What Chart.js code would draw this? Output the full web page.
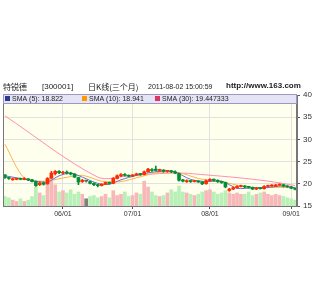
<!DOCTYPE html>
<html>
<head>
<meta charset="utf-8">
<script src="https://cdn.jsdelivr.net/npm/chart.js@4.4.1/dist/chart.umd.min.js"></script>
<style>
  html, body { margin: 0; padding: 0; background: #fff; }
</style>
</head>
<body>
<canvas id="kChart" width="320" height="300"></canvas>
<script>
// daily candles, oldest first
const openPrices  = [22.0,21.3,20.9,21.0,21.2,21.0,21.1,20.9,20.5,19.8,20.2,20.0,21.3,22.3,22.8,22.4,22.6,22.4,22.2,21.4,
                     20.5,20.6,20.5,20.1,19.8,19.6,19.9,20.3,20.1,21.2,21.8,22.1,21.9,21.7,22.0,22.2,22.1,22.7,23.2,23.3,
                     23.0,23.1,22.8,22.9,22.7,22.3,20.9,20.5,20.7,20.5,20.6,20.4,20.0,20.7,21.0,20.8,20.5,20.3,18.5,18.8,
                     19.1,19.4,19.5,19.3,19.2,18.8,19.0,18.9,19.4,19.5,19.5,19.7,19.8,19.5,19.3,19.0];
const closePrices = [21.4,21.2,21.1,21.2,21.0,21.2,20.9,20.5,19.6,20.2,19.9,21.2,22.4,22.8,22.5,22.6,22.4,22.2,21.5,20.4,
                     20.8,20.6,20.1,19.8,19.6,19.9,20.3,20.1,21.2,21.8,22.1,21.9,21.7,22.0,22.2,22.1,22.7,23.3,23.0,23.0,
                     23.1,22.8,22.9,22.7,22.4,20.8,20.6,20.7,20.5,20.6,20.4,20.0,20.7,21.0,20.8,20.5,20.3,19.3,18.8,19.1,
                     19.4,19.5,19.3,19.2,18.8,19.0,18.9,19.4,19.5,19.6,19.7,19.8,19.5,19.3,19.0,18.8];
const highPrices  = [22.1,21.5,21.3,21.3,21.3,21.4,21.2,21.0,20.6,20.4,20.4,21.4,22.8,23.0,23.0,22.8,22.9,22.6,22.3,21.5,
                     21.0,20.8,20.6,20.2,19.9,20.0,20.4,20.4,21.4,22.0,22.3,22.3,22.0,22.1,22.4,22.3,22.9,23.5,23.4,24.0,
                     23.3,23.2,23.0,23.0,22.9,22.4,21.0,20.9,20.8,20.8,20.7,20.5,20.9,21.2,21.1,20.9,20.6,20.4,19.0,19.3,
                     19.6,19.7,19.6,19.4,19.3,19.2,19.1,19.6,19.7,19.8,19.9,20.0,19.9,19.6,19.4,19.1];
const lowPrices   = [21.2,21.0,20.8,20.9,20.9,20.9,20.7,20.4,19.4,19.6,19.7,19.9,21.2,22.0,22.3,22.2,22.2,22.0,21.4,19.8,
                     20.3,20.4,20.0,19.6,19.3,19.5,19.8,19.9,20.0,21.1,21.6,21.7,21.6,21.6,21.9,21.9,22.0,22.6,22.8,22.9,
                     22.8,22.6,22.6,22.5,22.3,20.6,20.4,20.3,20.3,20.4,20.3,19.8,19.9,20.6,20.6,20.3,20.1,19.1,18.3,18.7,
                     19.0,19.3,19.1,19.0,18.7,18.7,18.8,18.8,19.3,19.4,19.4,19.6,19.3,19.2,18.9,18.6];
const volumes     = [29,25,18,14,22,14,18,29,58,40,32,83,90,65,43,47,40,50,36,43,
                     36,22,29,32,25,29,36,25,47,32,36,43,29,32,40,36,76,58,43,32,
                     29,32,40,50,43,61,43,40,36,32,36,43,47,50,43,36,40,47,40,36,
                     40,36,36,43,32,36,40,43,36,32,36,32,29,25,22,18];

// moving averages: [day index, value]
const sma5Points  = [[0,21.8],[4,21.2],[8,20.6],[11,20.4],[14,21.8],[17,22.4],[20,21.5],[24,20.1],[27,19.9],[30,20.9],
                     [34,21.9],[38,22.6],[42,22.9],[44,22.7],[48,21.0],[52,20.5],[56,20.6],[60,19.0],[64,19.1],[68,19.2],
                     [72,19.5],[75,19.1]];
const sma10Points = [[0,28.9],[5,21.3],[10,20.6],[15,21.3],[20,21.9],[25,20.6],[30,20.5],[35,21.6],[40,22.6],[45,22.5],
                     [50,21.2],[55,20.5],[58,20.1],[62,19.3],[66,19.1],[70,19.2],[75,19.1]];
const sma30Points = [[0,35.3],[24,21.5],[32,21.8],[40,22.3],[46,22.4],[52,22.0],[60,21.4],[68,20.6],[75,19.6]];

const tickPositions = [15, 33, 53, 74];
const tickLabels = ['06/01', '07/01', '08/01', '09/01'];

const legendItems = [
  { text: 'SMA (5): 18.822', color: '#2b3a8f', x: 5 },
  { text: 'SMA (10): 18.941', color: '#ff9900', x: 82 },
  { text: 'SMA (30): 19.447333', color: '#dd3366', x: 155 }
];

const UP = '#ff2a00', DOWN = '#008f33', FLAT = '#666666';
const candleColor = closePrices.map((c, i) => c > openPrices[i] ? UP : (c < openPrices[i] ? DOWN : FLAT));
const volColor = closePrices.map((c, i) => c > openPrices[i] ? '#f6b8b8' : (c < openPrices[i] ? '#b8f0b8' : '#808080'));

const toXY = pts => pts.map(p => ({ x: p[0], y: p[1] }));

const pagePlugin = {
  id: 'page',
  beforeDraw(chart) {
    const { ctx, chartArea: a } = chart;
    ctx.save();
    ctx.fillStyle = '#ffffee';
    ctx.fillRect(a.left, a.top, a.right - a.left, a.bottom - a.top);
    ctx.restore();
  },
  afterDraw(chart) {
    const { ctx, chartArea: a } = chart;
    ctx.save();
    // frame
    ctx.strokeStyle = '#777';
    ctx.lineWidth = 1;
    ctx.strokeRect(a.left + 0.5, a.top + 0.5, a.right - a.left - 1, a.bottom - a.top);
    // header line
    ctx.fillStyle = '#222';
    ctx.textBaseline = 'middle';
    ctx.font = '8px "Noto Sans CJK SC", "Liberation Sans", sans-serif';
    ctx.fillText('特锐德', 3, 87);
    ctx.font = '8px "Liberation Sans", Arial, sans-serif';
    ctx.fillText('[300001]', 42, 87);
    ctx.font = '8px "Noto Sans CJK SC", "Liberation Sans", sans-serif';
    ctx.fillText('日K线(三个月)', 88, 87);
    ctx.font = '7px "Liberation Sans", Arial, sans-serif';
    ctx.fillText('2011-08-02 15:00:59', 148, 87);
    ctx.font = 'bold 8px "Liberation Sans", Arial, sans-serif';
    ctx.fillText('http://www.163.com', 226, 86);
    // legend strip
    ctx.fillStyle = '#e4e4f6';
    ctx.fillRect(a.left, 94, a.right - a.left, 9);
    ctx.strokeStyle = '#9a9ac0';
    ctx.strokeRect(a.left + 0.5, 94.5, a.right - a.left - 1, 9);
    ctx.font = '7px "Liberation Sans", Arial, sans-serif';
    legendItems.forEach(it => {
      ctx.fillStyle = it.color;
      ctx.fillRect(it.x, 96, 5, 5);
      ctx.fillStyle = '#222';
      ctx.fillText(it.text, it.x + 7, 99);
    });
    ctx.restore();
  }
};

const idx = closePrices.map((_, i) => i);

new Chart(document.getElementById('kChart').getContext('2d'), {
  type: 'bar',
  data: {
    datasets: [
      {
        label: 'SMA (5)', type: 'line', data: toXY(sma5Points), yAxisID: 'y',
        borderColor: '#6672c8', borderWidth: 1, pointRadius: 0, tension: 0.3, order: 3
      },
      {
        label: 'SMA (10)', type: 'line', data: toXY(sma10Points), yAxisID: 'y',
        borderColor: '#ffb24d', borderWidth: 1, pointRadius: 0, tension: 0.3, order: 3
      },
      {
        label: 'SMA (30)', type: 'line', data: toXY(sma30Points), yAxisID: 'y',
        borderColor: '#ff8fb0', borderWidth: 1, pointRadius: 0, tension: 0.3, order: 3
      },
      {
        label: 'wick', data: idx.map(i => ({ x: i, y: [lowPrices[i], highPrices[i]] })), yAxisID: 'y',
        backgroundColor: candleColor, barThickness: 1, grouped: false, order: 2
      },
      {
        label: 'body', data: idx.map(i => ({ x: i, y: [Math.min(openPrices[i], closePrices[i]), Math.max(openPrices[i], closePrices[i])] })),
        yAxisID: 'y', backgroundColor: candleColor, barThickness: 3, minBarLength: 1, grouped: false, order: 1
      },
      {
        label: 'volume', data: idx.map(i => ({ x: i, y: volumes[i] })), yAxisID: 'vol',
        backgroundColor: volColor, barThickness: 3, grouped: false, order: 4
      }
    ]
  },
  options: {
    responsive: false,
    animation: false,
    layout: { padding: { left: 3, top: 95, right: 0, bottom: 78 } },
    plugins: { legend: { display: false }, tooltip: { enabled: false } },
    scales: {
      x: {
        type: 'linear', min: -0.5, max: 75.5, offset: false,
        afterBuildTicks: s => { s.ticks = tickPositions.map(v => ({ value: v })); },
        afterFit: s => { s.height = 16; },
        ticks: {
          autoSkip: false, maxRotation: 0, padding: 1,
          font: { size: 7, family: '"Liberation Sans", Arial' }, color: '#333',
          callback: v => tickLabels[tickPositions.indexOf(v)]
        },
        grid: { offset: false, color: '#e2e2e2', tickLength: 3, tickColor: '#555' },
        border: { color: '#777' }
      },
      y: {
        position: 'right', min: 15, max: 40,
        afterFit: s => { s.width = 23; },
        ticks: { stepSize: 5, padding: 3, font: { size: 8, family: '"Liberation Sans", Arial' }, color: '#333' },
        grid: { color: '#e2e2e2', tickLength: 3, tickColor: '#555' },
        border: { color: '#777' }
      },
      vol: { display: false, min: 0, max: 340 }
    }
  },
  plugins: [pagePlugin]
});
</script>
</body>
</html>
